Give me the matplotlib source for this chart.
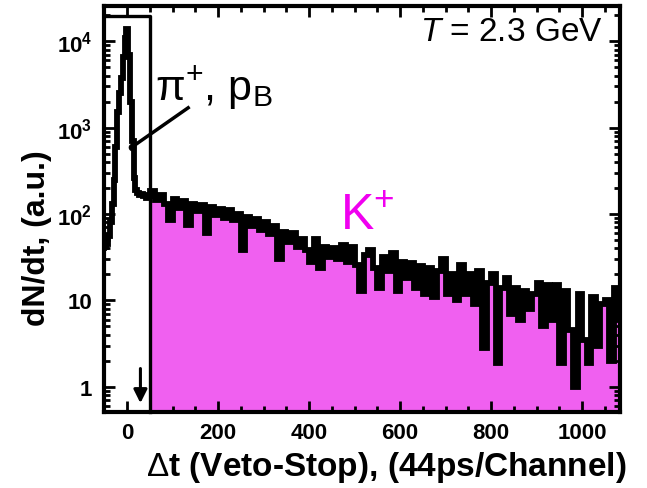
import matplotlib
matplotlib.use("Agg")
import matplotlib.pyplot as plt
from matplotlib.ticker import FixedLocator, MultipleLocator, LogLocator, NullFormatter
import numpy as np

plt.rcParams['font.family'] = 'Liberation Sans'
plt.rcParams['mathtext.fontset'] = 'custom'
plt.rcParams['mathtext.rm'] = 'Liberation Sans'
plt.rcParams['mathtext.it'] = 'Liberation Sans:italic'
plt.rcParams['mathtext.bf'] = 'Liberation Sans:bold'

# prompt peak (pi+, p_B), 4 channel bins
peak_edges = np.arange(-54, 51, 4)
peak_counts = [40, 42, 45, 55, 80, 130, 250, 600, 1500, 2500, 3800, 6500, 11000,
               14000, 7000, 2000, 700, 260, 190, 175, 165, 170, 160, 165, 155, 160]

# K+ region, 10 channel bins
kaon_edges = np.arange(50, 1091, 10)
kaon_counts = [185, 145, 165, 130, 85, 150, 118, 140, 75, 130,
               108, 128, 60, 120, 98, 115, 90, 112, 86, 100,
               38, 92, 72, 88, 65, 80, 58, 72, 30, 62,
               48, 60, 42, 52, 38, 28, 52, 24, 42, 32,
               40, 30, 44, 28, 42, 26, 13, 34, 38, 24,
               14, 32, 22, 35, 13, 28, 18, 27, 14, 25,
               12, 24, 11, 22, 30, 12, 20, 10, 26, 12,
               20, 9, 22, 2.8, 16, 20, 1.9, 14, 18, 7,
               14, 6, 13, 8, 12, 16, 5, 15, 6, 15,
               1.9, 13, 4.5, 1.0, 12, 3.5, 1.9, 11, 3, 9,
               10, 2.0, 14, 6]

all_edges = np.concatenate([peak_edges, kaon_edges[1:]])
all_counts = np.concatenate([peak_counts, kaon_counts])

fig = plt.figure(figsize=(6.47, 4.89), dpi=100)
ax = fig.add_axes([0.1615, 0.1554, 0.7965, 0.8313])
ax.set_yscale('log')
ax.set_xlim(-50, 1083)
ax.set_ylim(0.51, 2.6e4)

magenta_fill = '#f060f0'
ax.stairs(kaon_counts, kaon_edges, fill=True, color=magenta_fill, baseline=0.01)
ax.stairs(all_counts, all_edges, color='black', lw=4.2, baseline=None)

# box around the prompt peak
ax.plot([-50, 51, 51], [1.95e4, 1.95e4, 0.51], color='black', lw=2.4, clip_on=False)

# arrow at the cut
ax.annotate('', xy=(29, 0.6), xytext=(29, 1.75),
            arrowprops=dict(arrowstyle='-|>', color='black', lw=2.2, mutation_scale=20))

# pointer line to the peak
ax.plot([134, 11], [1700, 600], color='black', lw=2.5)
ax.plot([11], [600], 'o', color='black', ms=4.5)

ax.text(62, 2130, 'π$^{+}$, p$_{\\rm B}$', fontsize=31, va='baseline', ha='left')
ax.text(468, 67, r'K$^{+}$', fontsize=36, color='#f000f0', va='baseline', ha='left')
ax.text(1046, 1.05e4, r'$T$ = 2.3 GeV', fontsize=24, va='baseline', ha='right')

ax.xaxis.set_major_locator(FixedLocator([0, 200, 400, 600, 800, 1000]))
ax.xaxis.set_minor_locator(MultipleLocator(50))
ax.yaxis.set_major_locator(FixedLocator([1, 10, 100, 1000, 10000]))
ax.yaxis.set_minor_locator(LogLocator(base=10, subs=np.arange(2, 10), numticks=20))
ax.yaxis.set_minor_formatter(NullFormatter())
ax.set_yticklabels(['1', '10', r'$\mathbf{10^{2}}$', r'$\mathbf{10^{3}}$', r'$\mathbf{10^{4}}$'])

ax.tick_params(which='both', direction='in', top=True, right=True, width=2)
ax.tick_params(which='major', length=8, labelsize=16, pad=7)
ax.tick_params(axis='y', which='major', pad=9)
ax.tick_params(which='minor', length=4)
for lab in ax.get_xticklabels() + ax.get_yticklabels():
    lab.set_fontweight('bold')
for sp in ax.spines.values():
    sp.set_linewidth(3)

fig.text(386 / 647, 1 - 476 / 489, r'$\Delta$t (Veto-Stop), (44ps/Channel)',
         fontsize=24, fontweight='bold', ha='center', va='baseline')
fig.text(37 / 647, 1 - 238 / 489, 'dN/dt, (a.u.)', fontsize=23, fontweight='bold',
         rotation=90, ha='center', va='center')

fig.savefig('out.png', dpi=100)
